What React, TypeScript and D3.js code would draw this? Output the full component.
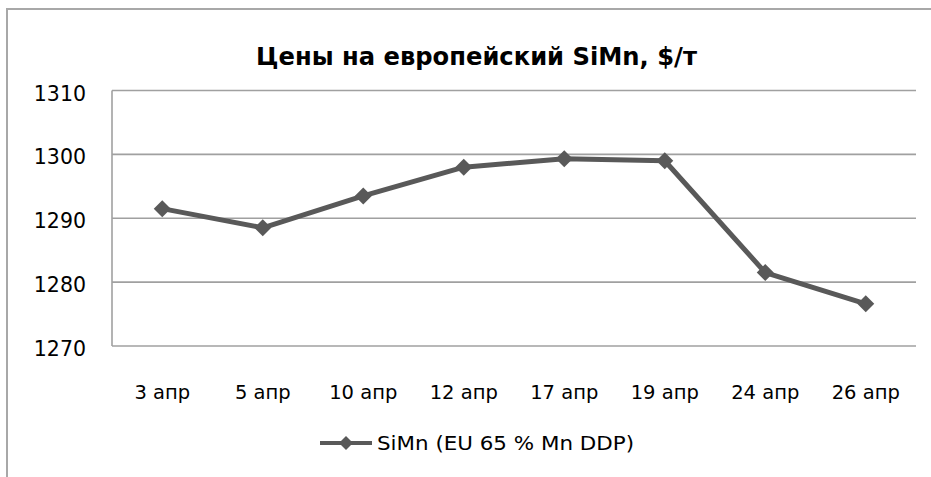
import React from "react";
import * as d3 from "d3";

const title = "Цены на европейский SiMn, $/т";
const categories = ["3 апр", "5 апр", "10 апр", "12 апр", "17 апр", "19 апр", "24 апр", "26 апр"];
const seriesName = "SiMn (EU 65 % Mn DDP)";
const values = [1291.5, 1288.5, 1293.5, 1298, 1299.3, 1299, 1281.5, 1276.6];
const yTicks = [1270, 1280, 1290, 1300, 1310];

const W = 931;
const H = 477;
const plot = { left: 112, right: 916, top: 90.5, bottom: 346 };
const font = "'DejaVu Sans', sans-serif";

export default function App() {
  const x = d3.scaleBand<string>().domain(categories).range([plot.left, plot.right]);
  const y = d3.scaleLinear().domain([1270, 1310]).range([plot.bottom, plot.top]);
  const cx = (c: string) => (x(c) as number) + x.bandwidth() / 2;
  const line = d3
    .line<number>()
    .x((_, i) => cx(categories[i]))
    .y((d) => y(d));
  const diamond = (px: number, py: number, r: number) =>
    `M${px},${py - r}L${px + r},${py}L${px},${py + r}L${px - r},${py}Z`;
  const lineColor = "#595959";

  return (
    <svg
      width={W}
      height={H}
      style={{ position: "absolute", left: 0, top: 0, display: "block", background: "#fff" }}
    >
      <rect x={7} y={9} width={W + 20} height={H + 20} fill="#fff" stroke="#a8a8a8" strokeWidth={2} />
      <text
        x={476.5}
        y={65}
        textAnchor="middle"
        fontFamily={font}
        fontWeight="bold"
        fontSize={24}
        textLength={441}
        lengthAdjust="spacingAndGlyphs"
        fill="#000"
      >
        {title}
      </text>
      {yTicks.map((t) => (
        <g key={t}>
          <line x1={plot.left} x2={plot.right} y1={y(t)} y2={y(t)} stroke="#a0a0a0" strokeWidth={1.6} />
          <text x={86} y={y(t) + 10} textAnchor="end" fontFamily={font} fontSize={20.5} fill="#000">
            {t}
          </text>
        </g>
      ))}
      <line x1={plot.left} x2={plot.left} y1={plot.top} y2={plot.bottom} stroke="#a0a0a0" strokeWidth={1.6} />
      {categories.map((c) => (
        <text key={c} x={cx(c)} y={398.5} textAnchor="middle" fontFamily={font} fontSize={19.5} fill="#000">
          {c}
        </text>
      ))}
      <path d={line(values) || ""} fill="none" stroke={lineColor} strokeWidth={5} strokeLinejoin="round" />
      {values.map((v, i) => (
        <path key={i} d={diamond(cx(categories[i]), y(v), 8.5)} fill={lineColor} />
      ))}
      <line x1={320} x2={372} y1={443} y2={443} stroke={lineColor} strokeWidth={4} />
      <path d={diamond(346, 443, 7)} fill={lineColor} />
      <text
        x={377}
        y={449.5}
        fontFamily={font}
        fontSize={19.5}
        textLength={257}
        lengthAdjust="spacingAndGlyphs"
        fill="#000"
      >
        {seriesName}
      </text>
    </svg>
  );
}
